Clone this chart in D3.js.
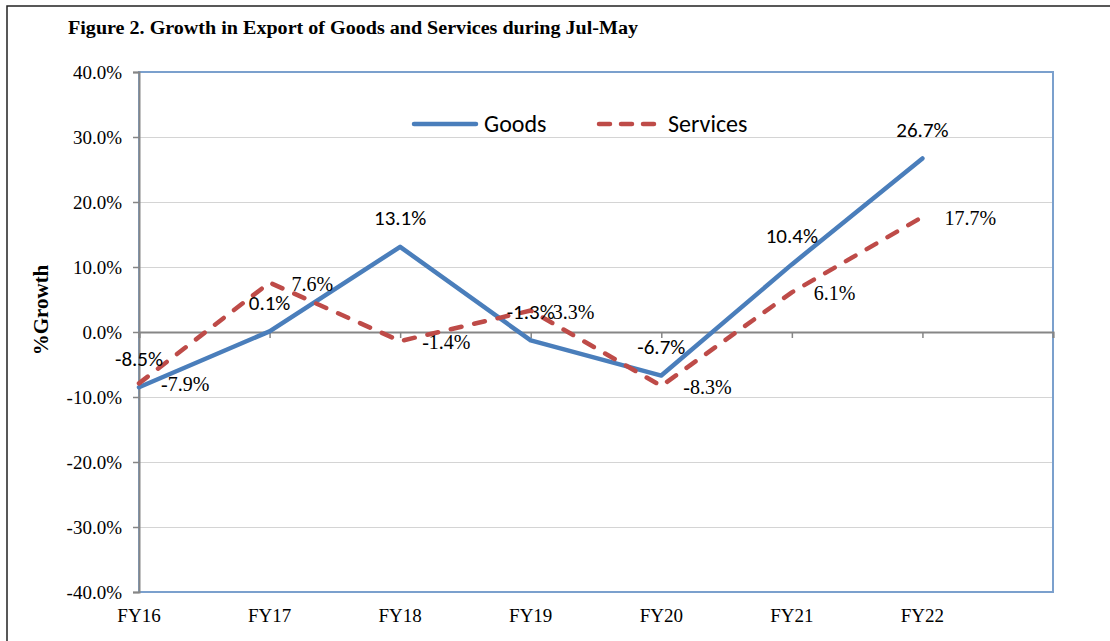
<!DOCTYPE html>
<html>
<head>
<meta charset="utf-8">
<script src="https://cdn.jsdelivr.net/npm/d3@7"></script>
<style>
  html, body { margin: 0; padding: 0; background: #fff; }
  svg { display: block; }
</style>
</head>
<body>
<svg id="chart" width="1110" height="641"></svg>
<script>
// ---- Data ----
const categories = ["FY16", "FY17", "FY18", "FY19", "FY20", "FY21", "FY22"];
const goods = [-8.5, 0.1, 13.1, -1.3, -6.7, 10.4, 26.7];
const services = [-7.9, 7.6, -1.4, 3.3, -8.3, 6.1, 17.7];
const yTicks = [-40, -30, -20, -10, 0, 10, 20, 30, 40];
const seriesNames = ["Goods", "Services"];
const titleText = "Figure 2. Growth in Export of Goods and Services during Jul-May";
const yTitle = "%Growth";

// ---- Layout ----
const plot = { left: 139, right: 1053, top: 72, bottom: 592 };
const blue = "#4A7EBB", red = "#BE4B48";
const serif = "'Liberation Serif','Times New Roman',serif";
const sans = "Carlito, Calibri, Lato, 'Open Sans', sans-serif";

const svg = d3.select("#chart");

// outer frame
svg.append("rect").attr("x", 7).attr("y", 6).attr("width", 1200).attr("height", 800)
  .attr("fill", "none").attr("stroke", "#222").attr("stroke-width", 1.5);

// title
svg.append("text").attr("x", 68).attr("y", 34)
  .attr("font-family", serif).attr("font-weight", "bold").attr("font-size", 18)
  .attr("textLength", 570).attr("lengthAdjust", "spacingAndGlyphs")
  .attr("fill", "#000").text(titleText);

// scales: categories at 0..6, with one extra slot on the right
const x = d3.scaleLinear().domain([0, categories.length]).range([plot.left, plot.right]);
const y = d3.scaleLinear().domain([-40, 40]).range([plot.bottom, plot.top]);

// gridlines
svg.append("g").selectAll("line").data(yTicks.filter(t => t !== 0 && t !== 40 && t !== -40)).join("line")
  .attr("x1", plot.left).attr("x2", plot.right)
  .attr("y1", d => y(d) + 0.5).attr("y2", d => y(d) + 0.5)
  .attr("stroke", "#D4D4D4").attr("stroke-width", 1);

// plot area border
svg.append("rect").attr("x", plot.left).attr("y", plot.top)
  .attr("width", plot.right - plot.left).attr("height", plot.bottom - plot.top)
  .attr("fill", "none").attr("stroke", "#7BA0CD").attr("stroke-width", 2);

// y axis
const yAxis = d3.axisLeft(y).tickValues(yTicks).tickSize(6).tickPadding(11)
  .tickFormat(d => d.toFixed(1) + "%");
const gy = svg.append("g").attr("transform", `translate(${plot.left},0)`).call(yAxis)
  .attr("font-family", serif).attr("font-size", 19);
gy.select(".domain").attr("stroke", "#868686").attr("stroke-width", 2);
gy.selectAll(".tick line").attr("stroke", "#868686").attr("stroke-width", 1.5);
gy.selectAll(".tick text").attr("font-family", serif).attr("font-size", 19).attr("fill", "#000");

// x axis at zero
const xAxis = d3.axisBottom(x).tickValues(d3.range(0, categories.length + 1)).tickSize(6).tickFormat("");
const gx = svg.append("g").attr("transform", `translate(0,${y(0)})`).call(xAxis);
gx.select(".domain").attr("stroke", "#868686").attr("stroke-width", 2);
gx.selectAll(".tick line").attr("stroke", "#868686").attr("stroke-width", 1.5);

// category labels at the bottom
svg.append("g").selectAll("text").data(categories).join("text")
  .attr("x", (d, i) => x(i)).attr("y", plot.bottom + 30)
  .attr("text-anchor", "middle").attr("font-family", serif).attr("font-size", 19)
  .attr("fill", "#000").text(d => d);

// y title
svg.append("text").attr("transform", "translate(48,310) rotate(-90)")
  .attr("text-anchor", "middle").attr("font-family", serif).attr("font-weight", "bold")
  .attr("font-size", 21).attr("fill", "#000").text(yTitle);

// lines
const line = d3.line().x((d, i) => x(i)).y(d => y(d));
svg.append("path").datum(goods).attr("d", line)
  .attr("fill", "none").attr("stroke", blue).attr("stroke-width", 4.5)
  .attr("stroke-linejoin", "round").attr("stroke-linecap", "round");
svg.append("path").datum(services).attr("d", line)
  .attr("fill", "none").attr("stroke", red).attr("stroke-width", 4.5)
  .attr("stroke-dasharray", "11,13").attr("stroke-linecap", "round").attr("stroke-linejoin", "round");

// data labels
svg.append("g").selectAll("text").data(goods).join("text")
  .attr("x", (d, i) => x(i)).attr("y", d => y(d) - 29)
  .attr("text-anchor", "middle").attr("dy", "0.35em")
  .attr("font-family", sans).attr("font-size", 21).attr("fill", "#000")
  .text(d => d.toFixed(1) + "%");
svg.append("g").selectAll("text").data(services).join("text")
  .attr("x", (d, i) => x(i) + 22).attr("y", d => y(d) + 1)
  .attr("text-anchor", "start").attr("dy", "0.35em")
  .attr("font-family", serif).attr("font-size", 20).attr("fill", "#000")
  .text(d => d.toFixed(1) + "%");

// legend
const lg = svg.append("g");
lg.append("line").attr("x1", 414).attr("x2", 476).attr("y1", 124).attr("y2", 124)
  .attr("stroke", blue).attr("stroke-width", 4.5).attr("stroke-linecap", "round");
lg.append("text").attr("x", 484).attr("y", 124).attr("dy", "0.35em")
  .attr("font-family", sans).attr("font-size", 24).attr("fill", "#000").text(seriesNames[0]);
lg.append("line").attr("x1", 599).attr("x2", 656).attr("y1", 124).attr("y2", 124)
  .attr("stroke", red).attr("stroke-width", 4.5).attr("stroke-linecap", "round")
  .attr("stroke-dasharray", "11,11");
lg.append("text").attr("x", 668).attr("y", 124).attr("dy", "0.35em")
  .attr("font-family", sans).attr("font-size", 24).attr("fill", "#000").text(seriesNames[1]);
</script>
</body>
</html>
